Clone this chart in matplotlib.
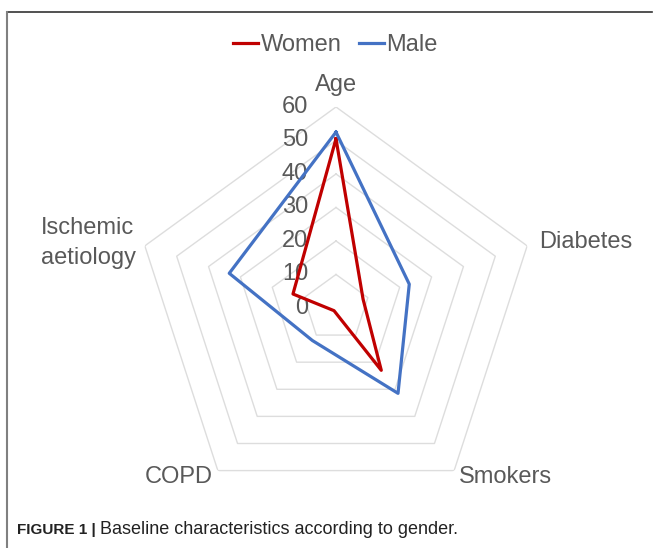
import numpy as np
import matplotlib
matplotlib.use("Agg")
import matplotlib.pyplot as plt
from matplotlib.lines import Line2D

# data
categories = ["Age", "Diabetes", "Smokers", "COPD", "Ischemic\naetiology"]
women = [50.5, 8.5, 23.0, 1.0, 13.5]
male = [52.5, 23.0, 31.5, 12.0, 33.5]
ring_values = [10, 20, 30, 40, 50, 60]
tick_labels = ["0", "10", "20", "30", "40", "50", "60"]

TXT = "#595959"
RED = "#C00000"
BLUE = "#4472C4"
GRID = "#DDDDDD"

plt.rcParams["font.family"] = ["Liberation Sans", "DejaVu Sans"]

fig = plt.figure(figsize=(6.54, 5.48), dpi=100)
ax = fig.add_axes([0.2064, 0.0712, 0.6147, 0.7336], projection="polar")
ax.set_theta_offset(np.pi / 2)
ax.set_theta_direction(-1)
ax.set_ylim(0, 60)
ax.grid(False)
ax.spines["polar"].set_visible(False)
ax.set_xticks([])
ax.set_yticks([])
ax.patch.set_alpha(0)

n = len(categories)
angles = np.linspace(0, 2 * np.pi, n, endpoint=False)
closed = np.concatenate([angles, angles[:1]])

# pentagon gridlines
for r in ring_values:
    ax.plot(closed, [r] * (n + 1), color=GRID, lw=1.0, zorder=1)

# series
ax.plot(closed, women + women[:1], color=RED, lw=2.3, zorder=3, label="Women")
ax.plot(closed, male + male[:1], color=BLUE, lw=2.3, zorder=3, label="Male")

# value labels along the top axis
for i, lab in enumerate(tick_labels):
    ax.annotate(lab, xy=(0, i * 10), xytext=(-20, 0), textcoords="offset points",
                ha="right", va="center", fontsize=17, color=TXT, zorder=2)

# category labels
ax.text(angles[0], 66.5, categories[0], ha="center", va="center", fontsize=17, color=TXT)
ax.text(angles[1], 63.8, categories[1], ha="left", va="center", fontsize=17, color=TXT)
ax.text(angles[2], 62.4, categories[2], ha="left", va="center", fontsize=17, color=TXT)
ax.text(angles[3], 62.4, categories[3], ha="right", va="center", fontsize=17, color=TXT)
ax.text(angles[4], 62.7, categories[4], ha="right", va="center", fontsize=17, color=TXT,
        multialignment="left", linespacing=1.42)

leg = fig.legend(loc="center", bbox_to_anchor=(0.513, 0.918), ncol=2, frameon=False,
                 fontsize=17, handlelength=1.05, handletextpad=0.1, columnspacing=0.75)
for t in leg.get_texts():
    t.set_color(TXT)

# frame lines
fig.add_artist(Line2D([7 / 654, 652 / 654], [1 - 12 / 548, 1 - 12 / 548],
                      color="#333333", lw=1.2, transform=fig.transFigure))
fig.add_artist(Line2D([7 / 654, 7 / 654], [0, 1 - 12 / 548],
                      color="#808080", lw=1.5, transform=fig.transFigure))

# caption
fig.text(17 / 654, 1 - 530 / 548, "FIGURE 1 |", ha="left", va="center", fontsize=11,
         fontweight="bold", color="#222222")
fig.text(100 / 654, 1 - 530 / 548, "Baseline characteristics according to gender.",
         ha="left", va="center", fontsize=13, color="#222222")

fig.savefig("out.png", dpi=100)
